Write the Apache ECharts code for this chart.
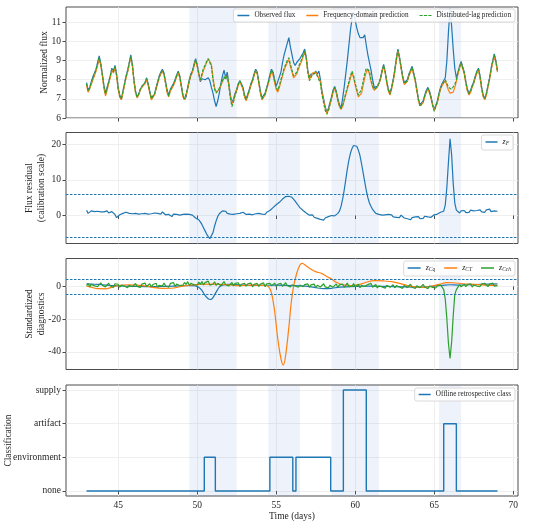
<!DOCTYPE html>
<html>
<head>
<meta charset="utf-8">
<script src="https://cdn.jsdelivr.net/npm/echarts@6/dist/echarts.min.js"></script>
<style>
  html, body { margin: 0; padding: 0; background: #fff; }
  #chart { width: 550px; height: 527px; }
</style>
</head>
<body>
<div id="chart"></div>
<script>
// sampling grid: 43.0 .. 69.0 days, every 0.1 day
var days = [];
for (var i = 0; i <= 260; i++) days.push(+(43 + i * 0.1).toFixed(1));

// tick values
var timeTicks = [45, 50, 55, 60, 65, 70];
var fluxTicks = [6, 7, 8, 9, 10, 11];
var residualTicks = [0, 10, 20];
var diagTicks = [-40, -20, 0];
var classTicks = [0, 1, 2, 3];

// panel 1 - normalized flux
var observedFlux = [
  7.85, 7.45, 7.6, 7.9, 8.15, 8.35, 8.55, 8.9, 9.25, 8.85, 8.3,
  7.7, 7.3, 7.6, 7.9, 8.2, 8.6, 8.45, 8.75, 8.3, 7.6,
  7.2, 6.95, 7.4, 7.8, 8.2, 8.5, 8.9, 9.3, 8.8, 8.0,
  7.4, 7.1, 7.25, 7.5, 7.65, 7.6, 7.85, 8.1, 7.8, 7.4,
  7.05, 6.95, 7.25, 7.6, 7.9, 8.2, 8.4, 8.55, 8.35, 7.9,
  7.45, 7.2, 7.5, 7.4, 7.8, 8.0, 8.25, 8.45, 8.2, 7.7,
  7.2, 6.95, 7.1, 7.6, 8.0, 8.3, 8.45, 8.8, 9.1, 8.8,
  8.3, 7.9, 8.05, 7.95, 8.0, 7.9, 8.1, 7.95, 7.6, 7.3,
  6.9, 6.6, 6.9, 7.3, 7.8, 8.2, 8.5, 8.1, 8.4, 7.8,
  7.2, 6.8, 7.0, 7.3, 7.5, 7.8, 7.95, 8.0, 7.6, 7.2,
  7.0, 7.25, 7.5, 7.8, 8.0, 8.3, 8.55, 8.4, 7.9, 7.4,
  7.05, 7.1, 7.3, 7.6, 7.9, 8.25, 8.55, 8.4, 8.0, 7.65,
  7.9, 8.0, 8.4, 8.9, 9.3, 9.6, 9.9, 10.2, 9.7, 9.3,
  8.9, 8.75, 8.9, 9.0, 9.1, 9.25, 9.4, 9.6, 9.2, 8.5,
  8.1, 8.3, 8.4, 8.3, 8.45, 8.3, 8.45, 8.0, 7.4, 7.0,
  6.6, 6.3, 6.5, 6.8, 7.1, 7.45, 7.65, 7.4, 7.0, 6.7,
  6.5, 7.0, 7.6, 8.3, 9.0, 9.8, 10.6, 11.2, 11.55, 11.1,
  10.7, 10.4, 10.2, 10.3, 10.2, 10.35, 9.8, 9.3, 8.9, 8.5,
  8.0, 7.6, 7.7, 7.65, 7.8, 8.1, 8.5, 8.8, 8.4, 7.9,
  7.5, 7.3, 7.6, 8.0, 8.5, 9.1, 9.6, 9.2, 8.7, 8.2,
  7.85, 7.8, 8.0, 8.3, 8.5, 8.7, 8.6, 8.0, 7.5, 7.0,
  6.7, 6.6, 6.9, 7.2, 7.45, 7.6, 7.4, 7.1, 6.7, 6.45,
  6.5, 6.9, 7.3, 7.6, 7.8, 7.9, 8.1, 9.0, 10.5, 11.7,
  10.8, 9.6, 8.6, 8.1, 8.4, 8.7, 8.95, 8.9, 8.4, 7.9,
  7.5, 7.3, 7.45, 7.7, 7.9, 8.2, 8.45, 8.6, 8.2, 7.6,
  7.2, 7.0, 7.3, 7.7, 8.1, 8.6, 9.0, 9.35, 9.0, 8.5
];
var freqPrediction = [
  7.7, 7.35, 7.45, 7.75, 8.0, 8.2, 8.45, 8.75, 9.05, 8.75, 8.2,
  7.55, 7.15, 7.45, 7.8, 8.1, 8.5, 8.35, 8.6, 8.2, 7.5,
  7.1, 6.95, 7.3, 7.7, 8.1, 8.4, 8.8, 9.15, 8.7, 7.9,
  7.3, 7.05, 7.2, 7.45, 7.6, 7.55, 7.8, 8.0, 7.7, 7.3,
  6.95, 6.85, 7.2, 7.5, 7.8, 8.1, 8.3, 8.45, 8.25, 7.8,
  7.3, 7.1, 7.4, 7.3, 7.7, 7.9, 8.15, 8.35, 8.1, 7.6,
  7.1, 6.95, 7.05, 7.5, 7.9, 8.2, 8.4, 8.7, 9.0, 8.7,
  8.3, 7.95, 8.2, 8.5, 8.7, 8.9, 9.1, 9.15, 8.8, 8.1,
  7.6, 7.35, 7.3, 7.5, 7.7, 7.9, 8.1, 8.0, 8.2, 7.7,
  7.1, 6.75, 6.9, 7.2, 7.45, 7.7, 7.9, 7.95, 7.5, 7.1,
  6.9, 7.15, 7.4, 7.7, 7.9, 8.2, 8.45, 8.3, 7.8, 7.3,
  6.95, 7.0, 7.2, 7.5, 7.8, 8.1, 8.4, 8.25, 7.85, 7.5,
  7.35, 7.6, 7.9, 8.2, 8.5, 8.7, 8.9, 9.05, 8.7, 8.4,
  8.1, 8.0, 8.3, 8.55, 8.75, 8.95, 9.2, 9.45, 9.1, 8.4,
  8.0, 8.2, 8.35, 8.25, 8.4, 8.25, 8.35, 7.9, 7.3, 6.9,
  6.5, 6.25, 6.4, 6.7, 7.0, 7.35, 7.55, 7.3, 6.9, 6.6,
  6.45, 6.6, 6.9, 7.2, 7.5, 7.8, 8.1, 8.35, 8.1, 7.7,
  7.4, 7.1, 7.05, 7.3, 7.7, 8.1, 8.4, 8.55, 8.3, 7.9,
  7.6, 7.45, 7.55, 7.6, 7.7, 8.0, 8.4, 8.7, 8.35, 7.8,
  7.4, 7.2, 7.5, 7.9, 8.4, 9.0, 9.5, 9.1, 8.6, 8.1,
  7.75, 7.7, 7.9, 8.2, 8.4, 8.6, 8.5, 7.9, 7.4, 6.9,
  6.65, 6.75, 6.8, 7.1, 7.35, 7.5, 7.3, 7.0, 6.65, 6.4,
  6.45, 6.8, 7.2, 7.5, 7.7, 7.8, 7.95, 7.7, 7.45, 7.3,
  7.25, 7.35, 7.6, 7.9, 8.3, 8.6, 8.85, 8.8, 8.3, 7.8,
  7.4, 7.2, 7.35, 7.6, 7.8, 8.1, 8.35, 8.5, 8.1, 7.5,
  7.1, 6.95, 7.2, 7.6, 8.0, 8.5, 8.9, 9.2, 8.9, 8.4
];
var lagPrediction = [
  7.8, 7.4, 7.55, 7.85, 8.1, 8.3, 8.5, 8.85, 9.15, 8.8, 8.25,
  7.65, 7.25, 7.55, 7.85, 8.2, 8.55, 8.4, 8.7, 8.25, 7.55,
  7.15, 7.0, 7.35, 7.75, 8.15, 8.45, 8.85, 9.2, 8.75, 7.95,
  7.35, 7.1, 7.25, 7.5, 7.65, 7.6, 7.85, 8.05, 7.75, 7.35,
  7.0, 6.9, 7.25, 7.55, 7.85, 8.15, 8.35, 8.5, 8.3, 7.85,
  7.4, 7.15, 7.45, 7.35, 7.75, 7.95, 8.2, 8.4, 8.15, 7.65,
  7.15, 7.0, 7.1, 7.55, 7.95, 8.25, 8.45, 8.75, 9.05, 8.75,
  8.35, 8.0, 8.3, 8.6, 8.75, 8.95, 9.1, 9.1, 8.7, 8.0,
  7.5, 7.3, 7.35, 7.55, 7.75, 7.95, 8.15, 8.0, 8.25, 7.7,
  7.05, 6.6, 6.85, 7.2, 7.45, 7.75, 7.95, 8.0, 7.55, 7.1,
  6.95, 7.2, 7.45, 7.75, 7.95, 8.25, 8.5, 8.35, 7.85, 7.35,
  7.0, 7.05, 7.25, 7.55, 7.85, 8.2, 8.5, 8.35, 7.95, 7.6,
  7.45, 7.7, 8.0, 8.3, 8.6, 8.8, 9.0, 9.15, 8.8, 8.5,
  8.2, 8.1, 8.4, 8.65, 8.85, 9.05, 9.3, 9.5, 9.15, 8.4,
  7.95, 8.1, 8.3, 8.2, 8.35, 8.2, 8.3, 7.8, 7.2, 6.8,
  6.4, 6.2, 6.35, 6.7, 7.05, 7.4, 7.6, 7.35, 6.95, 6.65,
  6.5, 6.65, 6.95, 7.3, 7.6, 7.9, 8.2, 8.45, 8.2, 7.8,
  7.5, 7.2, 7.2, 7.5, 7.9, 8.3, 8.6, 8.7, 8.45, 8.0,
  7.7, 7.5, 7.6, 7.65, 7.75, 8.05, 8.45, 8.75, 8.4, 7.85,
  7.45, 7.25, 7.55, 7.95, 8.45, 9.05, 9.55, 9.15, 8.65, 8.15,
  7.8, 7.75, 7.95, 8.25, 8.45, 8.65, 8.55, 7.95, 7.45, 6.95,
  6.6, 6.55, 6.85, 7.15, 7.4, 7.55, 7.35, 7.05, 6.65, 6.35,
  6.4, 6.85, 7.25, 7.55, 7.75, 7.85, 8.0, 7.8, 7.6, 7.5,
  7.5, 7.55, 7.75, 8.0, 8.35, 8.65, 8.9, 8.85, 8.35, 7.85,
  7.45, 7.25, 7.4, 7.65, 7.85, 8.15, 8.4, 8.55, 8.15, 7.55,
  7.15, 7.0, 7.25, 7.65, 8.05, 8.55, 8.95, 9.3, 8.95, 8.45
];

// panel 2 - flux residual z_F
var fluxResidual = [
  1.5, 0.6, 1.0, 1.3, 0.8, 1.1, 0.7, 1.2, 0.9, 1.0, 0.6,
  1.0, 0.8, 1.3, 0.7, 0.9, 1.1, 0.6, 0.3, -0.6, -0.3,
  0.2, -0.2, 0.6, 0.1, 0.9, 0.4, 0.6, 0.1, 0.5, 0.3,
  0.6, 0.2, 0.4, 0.0, 0.5, 0.3, 0.6, 0.2, 0.4, 0.1,
  0.5, 0.3, 0.7, 0.2, 0.6, 0.9, 0.4, 1.0, 0.6, 0.2,
  -0.2, 0.3, 0.0, -0.3, 0.4, 0.6, 0.3, 0.5, 0.1, 0.4,
  0.3, 0.0, 0.4, 0.1, 0.3, -0.2, 0.1, -0.4, -0.7, -1.0,
  -1.2, -1.8, -2.5, -3.4, -4.3, -5.2, -5.9, -6.5, -6.2, -4.8,
  -3.0, -1.5, -0.3, 0.5, 1.0, 1.3, 0.9, 1.2, 0.6, 0.3,
  0.4, 0.7, 0.3, 0.8, 0.5, 0.2, 0.6, 0.4, 0.9, 0.5,
  0.3, 0.8, 0.4, 0.6, 0.2, 0.7, 0.5, 1.0, 0.6, 0.3,
  0.4, 0.7, 0.3, 0.9, 1.0, 1.4, 1.8, 2.2, 2.6, 3.0,
  3.3, 3.7, 4.2, 4.6, 4.8, 5.3, 5.7, 5.4, 5.6, 5.1,
  4.6, 4.0, 3.4, 2.8, 2.2, 1.7, 1.4, 0.9, 0.7, 0.4,
  0.1, -0.3, 0.2, -0.5, -0.2, -0.8, -0.4, -1.1, -0.6, -1.3,
  -0.7, -0.9, -0.3, -0.6, 0.0, -0.4, -0.1, 0.3, 0.6, 1.2,
  2.5, 4.5, 7.0, 10.0, 13.0, 15.5, 17.5, 18.8, 19.6, 20.0,
  19.4, 18.3, 16.8, 14.5, 12.0, 9.5, 7.0, 5.0, 3.5, 2.5,
  1.7, 1.2, 0.6, 0.9, 0.3, 0.6, 0.1, 0.4, 0.2, -0.2,
  0.3, -0.1, 0.2, -0.4, 0.0, -0.5, -0.2, -0.6, 0.1, -0.3,
  -0.7, -0.2, -0.9, -0.5, -1.2, -0.6, -1.0, -0.4, -0.8, -0.3,
  -0.9, -0.5, -0.8, -0.2, -0.7, -0.4, 0.0, -0.5, -0.2, 0.2,
  -0.1, 0.4, 0.7, 0.9, 0.6, 1.2, 3.0, 8.0, 15.0, 21.5,
  17.0, 9.0, 3.5, 1.5, 1.2, 0.7, 1.3, 0.9, 1.4, 0.8,
  1.2, 0.9, 1.5, 1.0, 1.3, 0.8, 1.4, 1.1, 1.6, 1.0,
  1.4, 0.9, 1.6, 1.2, 1.8, 1.1, 1.5, 1.3, 1.7, 1.2
];
var residualThreshold = 6;

// panel 3 - standardized diagnostics (smooth ones as [day, value])
var zCq = [
  [43, 1.5], [43.5, 1.3], [44, 1.0], [44.5, 0.6], [45, 0.3], [46, 0.0], [47, -0.2],
  [48, 0.0], [49, 0.3], [49.8, 0.5], [50.1, -0.5], [50.3, -2.5], [50.5, -5.5],
  [50.7, -7.6], [50.85, -8.0], [51.0, -6.8], [51.2, -3.5], [51.4, -0.5], [51.6, 0.8],
  [52, 1.2], [53, 0.8], [54, 0.6], [55, 0.8], [56, 0.5], [57, 0.0], [57.5, -0.8],
  [58, -1.4], [58.5, -1.2], [59, -0.5], [60, 0.0], [61, 0.2], [62, 0.0], [63, -0.3],
  [64, -0.5], [64.5, -0.3], [65, 0.2], [65.5, 0.6], [66, 1.0], [66.5, 0.8], [67, 0.9],
  [68, 1.3], [69, 1.5]
];
var zCT = [
  [43, 0.2], [43.3, -0.5], [43.7, -1.4], [44.2, -1.5], [44.6, -0.5], [45.0, 0.5],
  [45.6, 1.0], [46.2, 0.8], [46.8, 0.2], [47.3, -0.8], [47.8, -1.2], [48.5, -1.0],
  [49.0, 0.0], [49.5, 0.8], [50.2, 1.2], [51, 1.4], [52, 1.0], [52.5, 0.5], [53.5, 0.8],
  [54.2, 0.6], [54.5, 0.0], [54.7, -4], [54.9, -15], [55.1, -32], [55.3, -44],
  [55.45, -48], [55.6, -42], [55.8, -25], [55.95, -10], [56.1, 0], [56.3, 8], [56.5, 13],
  [56.65, 14], [56.9, 12.5], [57.2, 10.5], [57.5, 9], [57.9, 7.8], [58.2, 6], [58.5, 4.5],
  [58.8, 2.5], [59.2, 1.0], [59.8, 0.5], [60.3, 1.2], [60.8, 2.8], [61.2, 3.5], [61.8, 3.3],
  [62.4, 2.8], [62.8, 1.8], [63.3, 0.5], [63.8, -0.3], [64.3, -0.6], [64.8, 0.0],
  [65.3, 1.2], [65.8, 2.3], [66.2, 2.2], [66.8, 1.6], [67.5, 1.2], [68.2, 0.8], [69, 0.6]
];
var zCch = [
  0.5, 1.8, -0.4, 1.2, 2.0, 0.3, 1.5, -0.2, 1.0, 2.2, 0.6,
  1.4, -0.3, 0.9, 1.9, 0.2, 1.1, -0.6, 1.6, 0.4, 1.3,
  -0.5, 0.8, 1.7, 0.1, 1.2, -0.8, 0.6, 1.5, -0.2, 0.9,
  1.8, 0.0, 1.0, -0.7, 1.4, 0.5, 2.0, -0.1, 0.8, 1.6,
  -0.4, 1.1, 0.3, 1.9, -0.6, 0.7, 1.5, 0.2, 2.1, 0.4,
  1.3, -0.5, 1.8, 0.6, 2.3, 0.0, 1.4, 2.6, 0.5, 1.7,
  0.8, 2.4, 1.1, 2.9, 0.6, 1.9, 3.1, 1.0, 2.2, 0.7,
  2.6, 1.2, 3.0, 0.9, 2.3, 1.5, 3.2, 0.8, 2.0, 1.3,
  2.8, 0.6, 1.9, 2.5, 0.4, 1.6, 2.9, 1.0, 2.1, 0.3,
  1.5, 2.4, 0.2, 1.8, 0.9, 2.2, -0.1, 1.3, 0.7, 1.9,
  0.1, 1.6, 1.0, 2.0, -0.3, 1.2, 0.5, 1.8, 0.0, 1.4,
  0.8, 2.1, -0.2, 1.5, 0.6, 1.9, 0.3, 1.2, 2.0, -0.1,
  1.3, 0.5, 1.8, 0.0, 1.1, 2.2, 0.4, 1.6, -0.3, 1.0,
  1.9, 0.2, 1.2, -0.5, 0.8, 1.7, -0.2, 1.1, 0.4, 1.5,
  -0.6, 0.9, 0.2, 1.4, -0.8, 0.7, 1.2, -0.4, 0.5, 1.6,
  -0.3, 0.8, -1.0, 0.6, 1.3, -0.5, 0.4, 1.5, -0.7, 0.9,
  0.2, 1.4, -0.6, 0.7, 2.0, -0.2, 1.0, 0.1, 1.7, -0.4,
  0.8, 1.3, -0.8, 0.5, 1.6, 0.0, -0.9, 1.1, 0.3, 1.8,
  -0.5, 0.6, 1.2, -1.0, 0.4, 1.5, -0.3, 0.8, -1.1, 0.7,
  1.3, -0.6, 0.2, 1.0, -0.9, 0.5, 1.4, -0.4, 0.3, -1.2,
  0.6, 1.1, -0.7, 0.2, 1.3, -0.5, 0.7, -1.3, 0.4, 1.0,
  -0.8, 0.3, 1.2, -0.4, 0.6, -1.4, 0.2, 0.9, -0.6, 0.5,
  -1.0, 0.4, -0.3, 0.8, -0.5, -2.0, -8.0, -20.0, -35.0, -44.0,
  -34.0, -18.0, -5.0, -2.0, -0.5, 1.0, -0.3, 0.8, 1.4, -0.2,
  1.1, 0.3, 1.6, -0.4, 0.9, 1.8, 0.2, 1.3, -0.1, 1.5,
  0.4, 1.9, 0.7, -0.2, 1.4, 0.6, 2.0, 0.1, 1.2, 0.5
];
var diagThreshold = 4.5;

// panel 4 - offline retrospective class (value held until next change)
var classLabels = ['none', 'environment', 'artifact', 'supply'];
var classSteps = [
  [43, 0], [50.45, 1], [51.15, 0], [54.6, 1], [56.05, 0], [56.25, 1], [58.45, 0],
  [59.25, 3], [60.7, 0], [65.6, 2], [66.4, 0], [69, 0]
];

// shaded event windows [start, end]
var windows = [[49.5, 52.5], [54.5, 56.5], [58.5, 61.5], [65.3, 66.7]];

var C_BLUE = '#1f77b4', C_ORANGE = '#ff7f0e', C_GREEN = '#2ca02c';
var FONT = 'Liberation Serif';
var TXT = '#262626';

function withDays(vals) {
  return vals.map(function (v, k) { return [days[k], v]; });
}

var shade = {
  silent: true,
  itemStyle: { color: 'rgba(90,130,210,0.1)' },
  data: windows.map(function (w) { return [{ xAxis: w[0] }, { xAxis: w[1] }]; })
};

function thresholdLines(t) {
  return {
    silent: true,
    symbol: 'none',
    label: { show: false },
    lineStyle: { color: C_BLUE, type: [2.5, 1.5], width: 1 },
    data: [{ yAxis: t }, { yAxis: -t }]
  };
}

var tops = [7, 132.5, 258.5, 385];
var grids = tops.map(function (t) {
  return { left: 66, right: 32, top: t, height: 111, show: true, outerBoundsMode: 'none',
           borderColor: '#4d4d4d', borderWidth: 1, backgroundColor: 'transparent' };
});

var gridLine = { show: true, lineStyle: { color: '#ebebeb', width: 0.8 } };

function xAx(idx) {
  return {
    type: 'value', gridIndex: idx, min: 41.7, max: 70.3,
    axisLine: { show: false },
    axisTick: { show: true, length: 3.5, customValues: timeTicks, lineStyle: { color: '#4d4d4d' } },
    axisLabel: { show: idx === 3, customValues: timeTicks, color: TXT, fontFamily: FONT, fontSize: 9.5, margin: 4 },
    splitLine: { show: true, customValues: timeTicks, lineStyle: gridLine.lineStyle },
    name: idx === 3 ? 'Time (days)' : '',
    nameLocation: 'middle', nameGap: 15, nameMoveOverlap: false,
    nameTextStyle: { color: TXT, fontFamily: FONT, fontSize: 9.5 }
  };
}

function yAx(idx, ticks, opts) {
  var a = {
    type: 'value', gridIndex: idx,
    axisLine: { show: false },
    axisTick: { show: true, length: 3.5, customValues: ticks, lineStyle: { color: '#4d4d4d' } },
    axisLabel: { customValues: ticks, color: TXT, fontFamily: FONT, fontSize: 9.5, margin: 5 },
    splitLine: { show: true, customValues: ticks, lineStyle: gridLine.lineStyle },
    nameLocation: 'middle', nameRotate: 90, nameMoveOverlap: false,
    nameTextStyle: { color: TXT, fontFamily: FONT, fontSize: 9.5, lineHeight: 11.5 }
  };
  for (var k in opts) a[k] = opts[k];
  return a;
}

var legendBase = {
  orient: 'horizontal',
  backgroundColor: 'rgba(255,255,255,0.85)',
  borderColor: '#d0d0d0', borderWidth: 0.8, borderRadius: 2,
  padding: [3, 4, 3, 4],
  itemWidth: 12, itemHeight: 1.5, itemGap: 11,
  textStyle: { color: TXT, fontFamily: FONT, fontSize: 7.2 }
};
function legend(extra) {
  var l = {};
  for (var k in legendBase) l[k] = legendBase[k];
  for (var m in extra) l[m] = extra[m];
  return l;
}

var dashIcon = 'path://M0,0h3.2v1h-3.2z M4.4,0h3.2v1h-3.2z M8.8,0h3.2v1h-3.2z';

var subRich = {
  i: { fontFamily: FONT, fontStyle: 'italic', fontSize: 8, color: TXT },
  s: { fontFamily: FONT, fontStyle: 'italic', fontSize: 5.5, color: TXT, padding: [4, 0, 0, 0] }
};
var legendNames = { zF: '{i|z}{s|F}', zCq: '{i|z}{s|Cq}', zCT: '{i|z}{s|CT}', zCch: '{i|z}{s|Cch}' };

function lineSeries(name, data, color, gi, extra) {
  var s = {
    name: name, type: 'line', data: data, xAxisIndex: gi, yAxisIndex: gi,
    showSymbol: false, symbol: 'none', clip: true,
    lineStyle: { color: color, width: 1.2 }, itemStyle: { color: color },
    emphasis: { disabled: true }
  };
  for (var k in extra) s[k] = extra[k];
  return s;
}

var option = {
  animation: false,
  backgroundColor: '#fff',
  grid: grids,
  xAxis: [xAx(0), xAx(1), xAx(2), xAx(3)],
  yAxis: [
    yAx(0, fluxTicks, { min: 6, max: 11.8, name: 'Normalized flux', nameGap: 16 }),
    yAx(1, residualTicks, { min: -7.84, max: 23.25, name: 'Flux residual\n(calibration scale)', nameGap: 19 }),
    yAx(2, diagTicks, { min: -50.7, max: 17, name: 'Standardized\ndiagnostics', nameGap: 19 }),
    yAx(3, classTicks, { min: -0.15, max: 3.15, name: 'Classification', nameGap: 52,
             axisLabel: { customValues: classTicks, color: TXT, fontFamily: FONT, fontSize: 9.5, margin: 5,
                          formatter: function (v) { return classLabels[v] || ''; } } })
  ],
  legend: [
    legend({ right: 35, top: 9, data: [
      { name: 'Observed flux', icon: 'rect' },
      { name: 'Frequency-domain prediction', icon: 'rect' },
      { name: 'Distributed-lag prediction', icon: dashIcon }
    ] }),
    legend({ right: 37, top: 135, data: [{ name: 'zF', icon: 'rect' }], textStyle: { rich: subRich },
             formatter: function (n) { return legendNames[n]; } }),
    legend({ right: 35, top: 261, itemGap: 9, itemWidth: 13, textStyle: { rich: subRich },
             data: [{ name: 'zCq', icon: 'rect' }, { name: 'zCT', icon: 'rect' }, { name: 'zCch', icon: 'rect' }],
             formatter: function (n) { return legendNames[n]; } }),
    legend({ right: 35, top: 388, data: [{ name: 'Offline retrospective class', icon: 'rect' }] })
  ],
  series: [
    lineSeries('Observed flux', withDays(observedFlux), C_BLUE, 0, { markArea: shade, z: 3 }),
    lineSeries('Frequency-domain prediction', withDays(freqPrediction), C_ORANGE, 0, { z: 3 }),
    lineSeries('Distributed-lag prediction', withDays(lagPrediction), C_GREEN, 0,
               { z: 4, lineStyle: { color: C_GREEN, width: 1.2, type: [3, 1.5] } }),
    lineSeries('zF', withDays(fluxResidual), C_BLUE, 1,
               { markArea: shade, markLine: thresholdLines(residualThreshold) }),
    lineSeries('zCq', zCq, C_BLUE, 2,
               { smooth: 0.3, markArea: shade, markLine: thresholdLines(diagThreshold), z: 3 }),
    lineSeries('zCT', zCT, C_ORANGE, 2, { smooth: 0.3, z: 3 }),
    lineSeries('zCch', withDays(zCch), C_GREEN, 2, { z: 4 }),
    lineSeries('Offline retrospective class', classSteps, C_BLUE, 3,
               { step: 'end', markArea: shade, lineStyle: { color: C_BLUE, width: 1.4 } })
  ]
};

var chart = echarts.init(document.getElementById('chart'));
chart.setOption(option);
</script>
</body>
</html>
